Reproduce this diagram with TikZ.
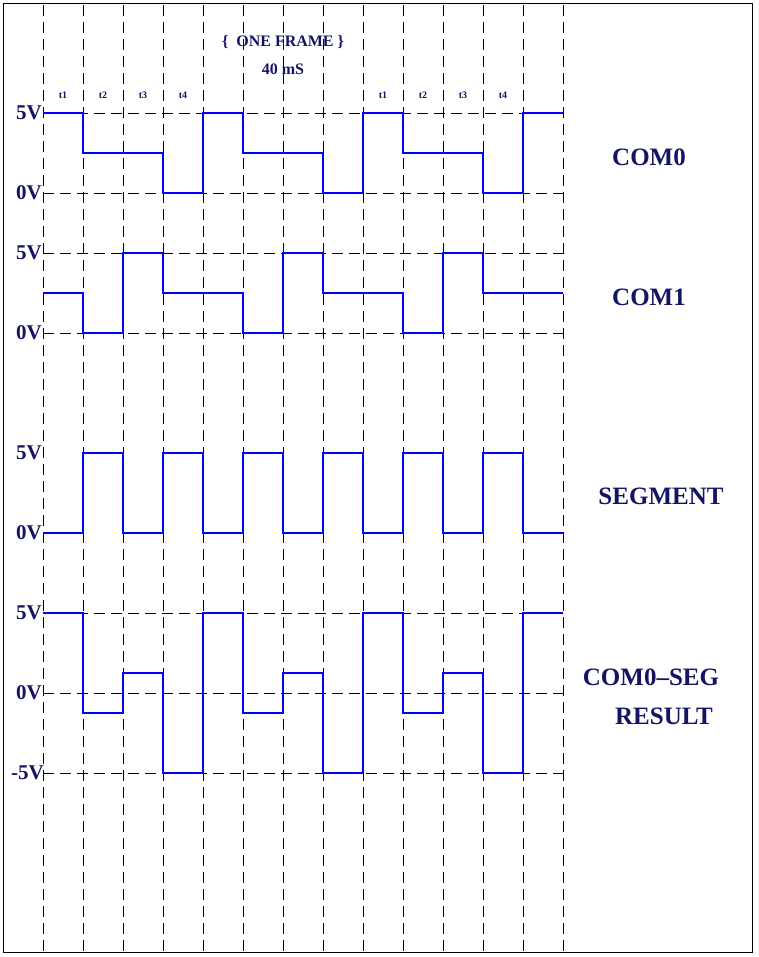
\documentclass[tikz,border=0pt]{standalone}
\usepackage{fontspec}
\setmainfont{Liberation Serif}
\definecolor{navy}{RGB}{20,20,100}
\begin{document}
\begin{tikzpicture}[x=1pt,y=-1pt,
  gridline/.style={black,line width=0.7pt,dash pattern=on 11pt off 6pt},
  wave/.style={blue,line width=2.6pt,line join=miter},
  lbl/.style={text=navy,font=\bfseries\fontsize{21}{21}\selectfont,inner sep=0pt},
  sigtitle/.style={text=navy,font=\bfseries\fontsize{25}{25}\selectfont,inner sep=0pt},
  tlab/.style={text=navy,font=\bfseries\fontsize{10}{10}\selectfont,inner sep=0pt}]
\useasboundingbox (0,0) rectangle (758,957);
\fill[white] (0,0) rectangle (758,957);
\draw[black,line width=0.8pt] (3,3) rectangle (752,952);
\foreach \xx in {43,83,...,563} \draw[gridline] (\xx,5) -- (\xx,952);
\foreach \yy in {113,193,253,333,613,693,773} \draw[gridline] (43,\yy) -- (563,\yy);
% COM0
\draw[wave] (43,113) -| (83,153) -| (163,193) -| (203,113) -| (243,153) -| (323,193) -| (363,113) -| (403,153) -| (483,193) -| (523,113) -- (563,113);
% COM1
\draw[wave] (43,293) -| (83,333) -| (123,253) -| (163,293) -| (243,333) -| (283,253) -| (323,293) -| (403,333) -| (443,253) -| (483,293) -- (563,293);
% SEGMENT
\draw[wave] (43,533) -| (83,453) -| (123,533) -| (163,453) -| (203,533) -| (243,453) -| (283,533) -| (323,453) -| (363,533) -| (403,453) -| (443,533) -| (483,453) -| (523,533) -- (563,533);
% RESULT
\draw[wave] (43,613) -| (83,713) -| (123,673) -| (163,773) -| (203,613) -| (243,713) -| (283,673) -| (323,773) -| (363,613) -| (403,713) -| (443,673) -| (483,773) -| (523,613) -- (563,613);
% voltage labels
\foreach \yy/\lab [count=\ii] in {113/5V,193/0V,253/5V,333/0V,453/5V,533/0V,613/5V,693/0V} \node[lbl,anchor=east] (v\ii) at (42,\yy) {\lab};
\node[lbl,anchor=east] (v9) at (44,773) {-5V};
% t labels
\foreach \xx/\lab [count=\ii] in {63/t1,103/t2,143/t3,183/t4,383/t1,423/t2,463/t3,503/t4} \node[tlab] (t\ii) at (\xx,95) {\lab};
\node[lbl,font=\bfseries\fontsize{16}{16}\selectfont] (frame) at (283,42) {\{\ \ ONE FRAME \}};
\node[lbl,font=\bfseries\fontsize{16}{16}\selectfont] (ms) at (283,69) {40 mS};
\node[sigtitle] (c0) at (649,157) {COM0};
\node[sigtitle] (c1) at (649,297) {COM1};
\node[sigtitle] (sg) at (661,496) {SEGMENT};
\node[sigtitle] (cs) at (651,677) {COM0--SEG};
\node[sigtitle] (rs) at (664,716) {RESULT};
\end{tikzpicture}
\end{document}
